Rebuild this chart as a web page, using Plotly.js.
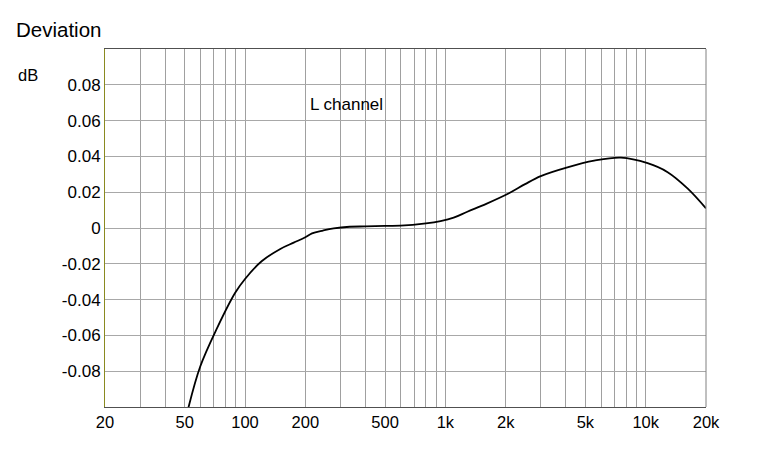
<!DOCTYPE html>
<html>
<head>
<meta charset="utf-8">
<script src="https://cdn.plot.ly/plotly-3.0.1.min.js"></script>
<style>html,body{margin:0;padding:0;background:#fff;}#chart{width:765px;height:458px;}</style>
</head>
<body>
<div id="chart"></div>
<script>
// Frequency (Hz) and deviation (dB)
const freqHz = [52, 59.7, 72.4, 89.3, 100, 121, 150, 175, 200, 216, 245, 277, 333, 400, 500, 597, 800, 946, 1100, 1287, 1600, 2077, 2500, 2993, 4066, 5530, 7518, 10220, 12870, 16220, 20000];
const deviationDb = [-0.101, -0.0775, -0.0561, -0.0362, -0.0285, -0.0186, -0.0117, -0.0082, -0.0052, -0.0030, -0.0014, -0.0002, 0.0007, 0.0009, 0.0012, 0.0013, 0.0026, 0.0039, 0.0058, 0.0091, 0.0135, 0.0194, 0.0245, 0.0290, 0.0339, 0.0376, 0.0393, 0.0362, 0.0312, 0.0220, 0.011];

// Axis ticks
const xGridVals = [];
for (const dec of [10, 100, 1000, 10000]) {
  for (let m = 1; m <= 9; m++) {
    const v = m * dec;
    if (v >= 20 && v <= 20000) xGridVals.push(v);
  }
}
const xLabelVals = [20, 50, 100, 200, 500, 1000, 2000, 5000, 10000, 20000];
const xLabelText = ['20', '50', '100', '200', '500', '1k', '2k', '5k', '10k', '20k'];
const xTickText = xGridVals.map(v => {
  const i = xLabelVals.indexOf(v);
  return i >= 0 ? xLabelText[i] : '';
});
const yTickVals = [-0.08, -0.06, -0.04, -0.02, 0, 0.02, 0.04, 0.06, 0.08];
const yTickText = ['-0.08', '-0.06', '-0.04', '-0.02', '0', '0.02', '0.04', '0.06', '0.08'];

const FONT = '"Liberation Sans", Arial, sans-serif';

const trace = {
  x: freqHz,
  y: deviationDb,
  type: 'scatter',
  mode: 'lines',
  line: {color: '#000000', width: 1.8, shape: 'spline', smoothing: 1},
  hoverinfo: 'skip'
};

const layout = {
  width: 765,
  height: 458,
  margin: {l: 105, r: 59, t: 49, b: 51},
  paper_bgcolor: '#ffffff',
  plot_bgcolor: '#ffffff',
  showlegend: false,
  font: {family: FONT, color: '#000000', size: 17},
  title: {
    text: 'Deviation',
    x: 16 / 765, xref: 'container', xanchor: 'left',
    y: 1 - 30 / 458, yref: 'container', yanchor: 'middle',
    font: {family: FONT, size: 20.5, color: '#000000'}
  },
  xaxis: {
    type: 'log',
    range: [Math.log10(20), Math.log10(20000)],
    tickmode: 'array',
    tickvals: xGridVals,
    ticktext: xTickText,
    ticks: '',
    showgrid: true,
    gridcolor: '#a0a0a0',
    gridwidth: 1,
    showline: true,
    linecolor: '#505050',
    linewidth: 1,
    mirror: true,
    zeroline: false,
    tickfont: {family: FONT, size: 16.5, color: '#000000'},
    fixedrange: true
  },
  yaxis: {
    range: [-0.1, 0.1],
    tickmode: 'array',
    tickvals: yTickVals,
    ticktext: yTickText,
    ticks: '',
    showgrid: true,
    gridcolor: '#a8a8a8',
    gridwidth: 1,
    showline: true,
    linecolor: '#8a8a20',
    linewidth: 1,
    zeroline: false,
    tickfont: {family: FONT, size: 17, color: '#000000'},
    fixedrange: true
  },
  shapes: [
    {type: 'line', xref: 'paper', yref: 'paper', x0: 1, x1: 1, y0: 0, y1: 1,
     line: {color: '#808080', width: 1}}
  ],
  annotations: [
    {text: 'L channel', xref: 'x', yref: 'y', x: Math.log10(320.8), y: 0.0691,
     showarrow: false, xanchor: 'center', yanchor: 'middle',
     font: {family: FONT, size: 17, color: '#000000'}},
    {text: 'dB', xref: 'paper', yref: 'paper', x: (16 - 105) / 601, y: (406.75 - 75) / 358,
     showarrow: false, xanchor: 'left', yanchor: 'middle',
     font: {family: FONT, size: 16.5, color: '#000000'}}
  ]
};

Plotly.newPlot('chart', [trace], layout, {staticPlot: true, displayModeBar: false});
</script>
</body>
</html>
